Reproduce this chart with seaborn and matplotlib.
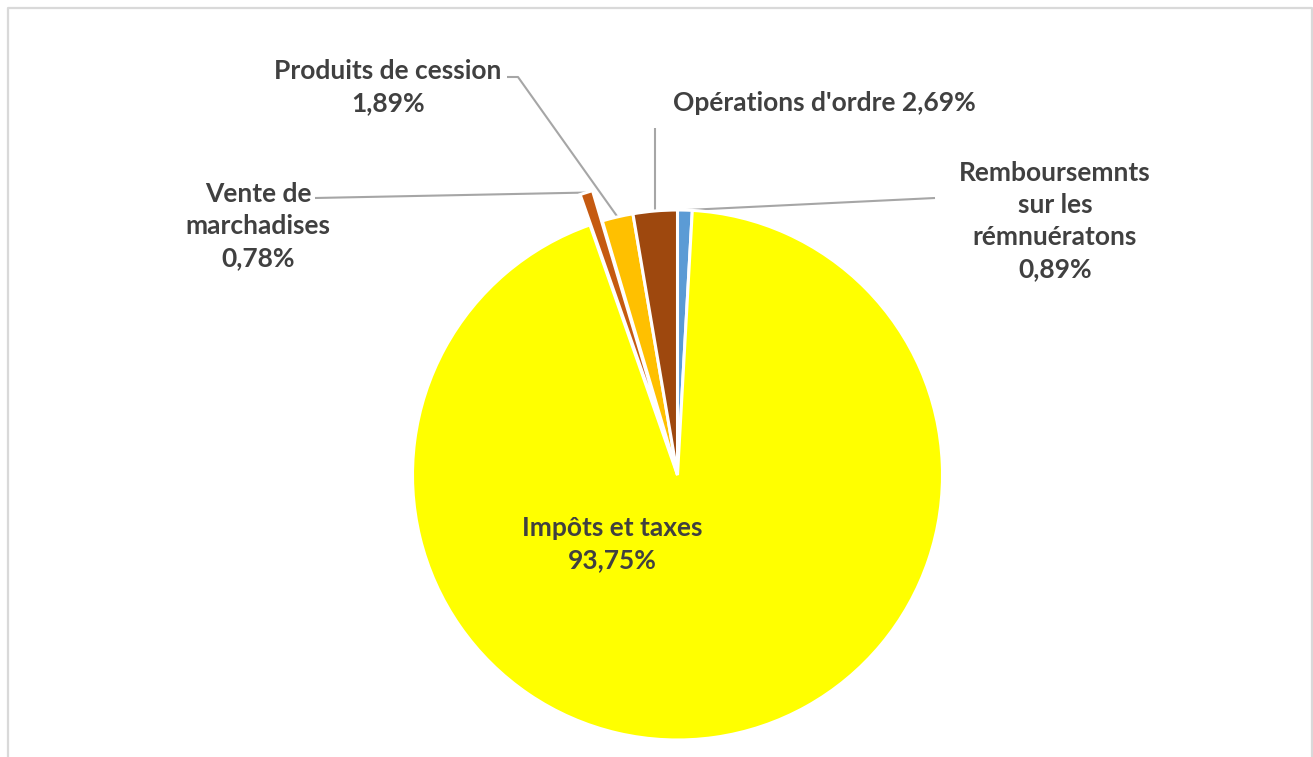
import numpy as np
import matplotlib
matplotlib.use("Agg")
import matplotlib.pyplot as plt
import seaborn as sns

# donnees (ordre des tranches, sens horaire depuis midi)
categories = ["Remboursemnts\nsur les\nrémnuératons", "Impôts et taxes",
              "Vente de\nmarchadises", "Produits de cession", "Opérations d'ordre"]
values = [0.89, 93.75, 0.78, 1.89, 2.69]
colors = ["#5B9BD5", "#FFFF00", "#C55A11", "#FFC000", "#9E480E"]
explode = [0, 0, 0.12, 0, 0]

W, H = 1313, 757
sns.set_theme(style="white")
plt.rcParams["font.family"] = ["Lato", "DejaVu Sans"]

fig = plt.figure(figsize=(W / 100, H / 100), dpi=100)
ax = fig.add_axes([0, 0, 1, 1])
ax.set_xlim(0, W)
ax.set_ylim(0, H)
ax.set_aspect("equal")
ax.axis("off")

def px(x, y):
    # coordonnees pixel (origine en haut a gauche) -> donnees
    return x, H - y

cx, cy = px(677.5, 475)
R = 265
# explode de matplotlib est en unites de donnees -> multiplier par le rayon
wedges, _ = ax.pie(values, colors=colors, explode=[e * R for e in explode],
                   startangle=90, counterclock=False, center=(cx, cy), radius=R,
                   wedgeprops=dict(edgecolor="white", linewidth=2.2))
ax.set_xlim(0, W)
ax.set_ylim(0, H)

def label_txt(cat, v):
    return f"{cat}\n{v:.2f}%".replace(".", ",")

txt_kw = dict(color="#404040", fontsize=19, fontweight="bold", ha="center",
              va="center", linespacing=1.4)

# position des etiquettes et coudes des lignes de rappel (en pixels)
layout = {
    0: dict(text=(1055, 221), path=[(935, 198)]),
    1: dict(text=(612, 544), path=None),
    2: dict(text=(258, 226), path=[(315, 198)]),
    3: dict(text=(388, 87), path=[(507, 77), (518, 77)]),
    4: dict(text=(824, 103), path=["v", 128]),
}

for i, w in enumerate(wedges):
    cat, v = categories[i], values[i]
    if i == 4:
        s = f"{cat} {v:.2f}%".replace(".", ",")
    else:
        s = label_txt(cat, v)
    tx, ty = px(*layout[i]["text"])
    ax.text(tx, ty, s, **txt_kw)
    path = layout[i]["path"]
    if path is None:
        continue
    mid = np.deg2rad((w.theta1 + w.theta2) / 2)
    ex = w.center[0] + w.r * np.cos(mid)
    ey = w.center[1] + w.r * np.sin(mid)
    if path[0] == "v":
        pts = [(ex, H - path[1]), (ex, ey)]
    else:
        pts = [px(*p) for p in path] + [(ex, ey)]
    xs, ys = zip(*pts)
    ax.plot(xs, ys, color="#A6A6A6", lw=1.5, solid_capstyle="butt", zorder=0.5)

# cadre gris clair
fx, fy = zip(*[px(8, H + 5), px(8, 8), px(1311.5, 8), px(1311.5, H + 5)])
ax.plot(fx, fy, color="#D9D9D9", lw=1.6, clip_on=False)

fig.savefig("out.png", dpi=100)
